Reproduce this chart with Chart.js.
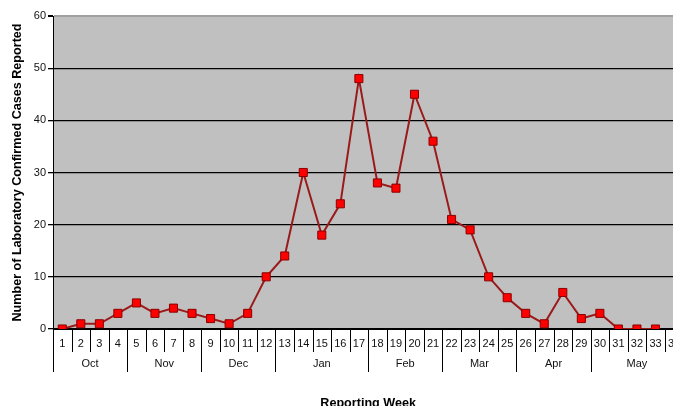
<!DOCTYPE html>
<html>
<head>
<meta charset="utf-8">
<script src="https://cdn.jsdelivr.net/npm/chart.js@4/dist/chart.umd.min.js"></script>
<style>
  body { margin: 0; overflow: hidden; background: #fff; }
</style>
</head>
<body>
<canvas id="myChart" width="690" height="410"></canvas>
<script>
let weeks = ['1','2','3','4','5','6','7','8','9','10','11','12','13','14','15','16','17',
             '18','19','20','21','22','23','24','25','26','27','28','29','30','31','32','33','34']
let cases = [0,1,1,3,5,3,4,3,2,1,3,10,14,30,18,24,48,28,27,45,36,21,19,10,6,3,1,7,2,3,0,0,0,null]
let months = ['Oct','Nov','Dec','Jan','Feb','Mar','Apr','May']
let monthWeeks = [4,4,4,5,4,4,4,5]
let yTicks = [0,10,20,30,40,50,60]

const fontName = '"Liberation Sans", Arial, sans-serif'

// grey plot background
const plotBg = {
    id: 'plotBg',
    beforeDraw(chart) {
        const a = chart.chartArea
        const c = chart.ctx
        c.save()
        c.fillStyle = '#c0c0c0'
        c.fillRect(a.left, a.top, a.right - a.left, a.bottom - a.top)
        c.restore()
    }
}

// week separators, month separators and month names under the axis
const monthAxis = {
    id: 'monthAxis',
    afterDraw(chart) {
        const x = chart.scales.x
        const c = chart.ctx
        const half = (x.getPixelForValue(1) - x.getPixelForValue(0)) / 2
        const base = chart.chartArea.bottom
        c.save()
        c.strokeStyle = '#000'
        c.lineWidth = 1
        for (let i = 0; i <= weeks.length; i++) {
            const px = Math.round(x.getPixelForValue(i) - half) + 0.5
            c.beginPath()
            c.moveTo(px, base)
            c.lineTo(px, base + 23)
            c.stroke()
        }
        c.font = '11px ' + fontName
        c.fillStyle = '#111'
        c.textAlign = 'center'
        c.textBaseline = 'middle'
        let start = 0
        months.forEach((m, k) => {
            const end = start + monthWeeks[k]
            const x0 = x.getPixelForValue(start) - half
            const x1 = x.getPixelForValue(end) - half
            const px = Math.round(x0) + 0.5
            c.beginPath()
            c.moveTo(px, base)
            c.lineTo(px, base + 43)
            c.stroke()
            c.fillText(m, (x0 + x1) / 2, base + 35)
            start = end
        })
        c.restore()
    }
}

const ctx = document.getElementById('myChart')

const myChart = new Chart(ctx, {
    type: 'line',
    data: {
        labels: weeks,
        datasets: [{
            data: cases,
            borderColor: '#9a1a1a',
            borderWidth: 2,
            backgroundColor: '#ff0000',
            pointStyle: 'rect',
            pointRadius: 5.7,
            pointBorderColor: '#8b0000',
            pointBorderWidth: 1,
            pointBackgroundColor: '#ff0000',
            tension: 0
        }]
    },
    options: {
        responsive: false,
        animation: false,
        layout: { padding: { top: 16, right: 6, left: 0, bottom: 0 } },
        plugins: { legend: { display: false }, tooltip: { enabled: false } },
        scales: {
            x: {
                type: 'category',
                offset: true,
                grid: { display: false, drawTicks: false },
                border: { display: true, color: '#000', width: 1 },
                ticks: {
                    color: '#111',
                    font: { family: fontName, size: 11 },
                    padding: 8,
                    maxRotation: 0,
                    autoSkip: false
                },
                title: {
                    display: true,
                    text: 'Reporting Week',
                    color: '#000',
                    font: { family: fontName, size: 12.6, weight: 'bold' },
                    padding: { top: 0, bottom: -1 }
                },
                afterFit: s => { s.height = 410 - 329 }
            },
            y: {
                min: 0,
                max: 60,
                afterBuildTicks: s => { s.ticks = yTicks.map(v => ({ value: v })) },
                grid: {
                    color: c => c.tick && c.tick.value === 60 ? '#a0a0a0' : '#000',
                    lineWidth: c => c.tick && c.tick.value === 60 ? 2 : 1.3,
                    tickColor: '#000',
                    tickLength: 5
                },
                border: { display: true, color: '#000', width: 1 },
                ticks: {
                    color: '#111',
                    font: { family: fontName, size: 11 },
                    padding: 2
                },
                title: {
                    display: true,
                    text: 'Number of Laboratory Confirmed Cases Reported',
                    color: '#000',
                    font: { family: fontName, size: 12.6, weight: 'bold' },
                    padding: 10
                },
                afterFit: s => { s.width = 53 }
            }
        }
    },
    plugins: [plotBg, monthAxis]
})
</script>
</body>
</html>
